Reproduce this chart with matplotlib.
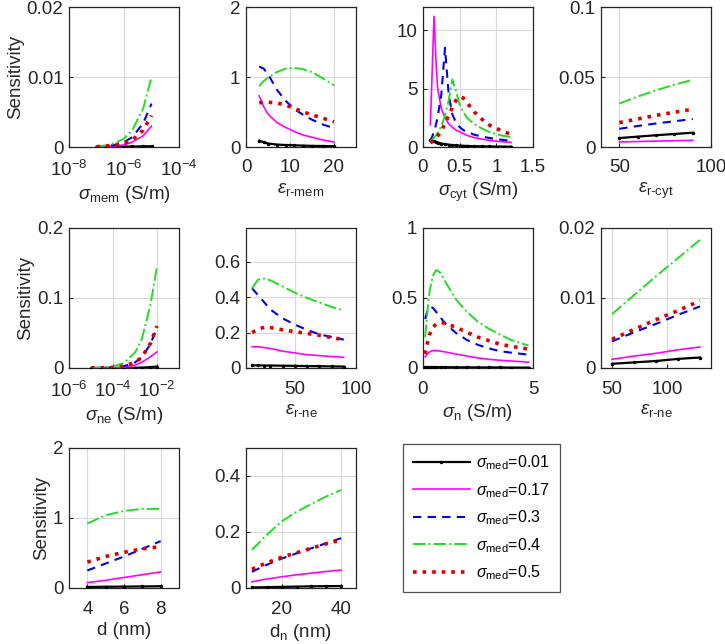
import numpy as np
import matplotlib
matplotlib.use("Agg")
import matplotlib.pyplot as plt
from matplotlib.lines import Line2D

plt.rcParams['font.family'] = ['Liberation Sans', 'DejaVu Sans']
plt.rcParams['mathtext.fontset'] = 'custom'
plt.rcParams['mathtext.rm'] = 'Liberation Sans'
plt.rcParams['mathtext.it'] = 'Liberation Sans:italic'
plt.rcParams['mathtext.default'] = 'it'

# series order: sigma_med = 0.01, 0.17, 0.3, 0.4, 0.5
med_labels = ['0.01', '0.17', '0.3', '0.4', '0.5']

# sigma_mem
x_mem = [1e-7, 2e-7, 5e-7, 1e-6, 2e-6, 5e-6, 1e-5]
y_mem = [
    [0.00002, 0.00003, 0.00004, 0.00006, 0.00008, 0.0001, 0.0001],
    [0.00003, 0.00006, 0.00015, 0.0003, 0.0007, 0.0016, 0.0030],
    [0.00005, 0.0001, 0.0003, 0.0007, 0.0014, 0.0034, 0.0062],
    [0.0001, 0.0002, 0.0006, 0.0012, 0.0024, 0.0055, 0.0100],
    [0.00005, 0.0001, 0.0003, 0.0005, 0.0010, 0.0024, 0.0045],
]

# eps_r-mem
x_epsmem = [3, 4, 5, 7, 9, 11, 13, 15, 17.5, 20]
y_epsmem = [
    [0.09, 0.07, 0.05, 0.035, 0.028, 0.024, 0.02, 0.016, 0.014, 0.012],
    [0.73, 0.58, 0.47, 0.35, 0.28, 0.22, 0.17, 0.14, 0.10, 0.07],
    [1.15, 1.12, 1.04, 0.82, 0.66, 0.54, 0.46, 0.39, 0.32, 0.27],
    [0.87, 0.94, 0.99, 1.07, 1.12, 1.13, 1.11, 1.07, 0.98, 0.88],
    [0.63, 0.64, 0.64, 0.63, 0.60, 0.55, 0.50, 0.46, 0.41, 0.36],
]

# sigma_cyt
x_cyt = [0.1, 0.12, 0.15, 0.18, 0.2, 0.25, 0.3, 0.35, 0.4, 0.45, 0.5,
         0.55, 0.6, 0.7, 0.8, 0.9, 1.0, 1.1, 1.2]
y_cyt = [
    [0.6, 0.55, 0.5, 0.42, 0.38, 0.3, 0.24, 0.2, 0.16, 0.14, 0.12,
     0.1, 0.09, 0.07, 0.06, 0.05, 0.04, 0.035, 0.03],
    [1.9, 5.5, 11.2, 7.0, 5.0, 3.3, 2.5, 2.0, 1.7, 1.45, 1.3,
     1.15, 1.0, 0.8, 0.68, 0.57, 0.5, 0.44, 0.4],
    [0.5, 0.8, 1.3, 2.0, 2.6, 4.5, 8.5, 4.5, 2.8, 2.1, 1.7,
     1.45, 1.3, 1.05, 0.9, 0.78, 0.68, 0.6, 0.53],
    [0.5, 0.6, 0.8, 1.0, 1.2, 1.8, 2.7, 4.0, 5.8, 4.8, 3.6,
     3.0, 2.5, 1.95, 1.6, 1.3, 1.1, 0.95, 0.85],
    [0.35, 0.45, 0.6, 0.8, 0.95, 1.4, 2.0, 2.7, 3.4, 4.0, 4.3,
     4.2, 3.8, 3.0, 2.4, 1.9, 1.6, 1.3, 1.1],
]

# eps_r-cyt
x_epscyt = [50, 60, 70, 80, 90]
y_epscyt = [
    [0.0064, 0.0074, 0.0084, 0.0093, 0.0102],
    [0.0036, 0.0039, 0.0042, 0.0045, 0.0048],
    [0.013, 0.015, 0.0168, 0.0184, 0.020],
    [0.031, 0.036, 0.0405, 0.0445, 0.048],
    [0.0174, 0.020, 0.0226, 0.0248, 0.027],
]

# sigma_ne
x_ne = [1e-5, 3e-5, 1e-4, 3e-4, 1e-3, 2e-3, 5e-3, 1e-2]
y_ne = [
    [0.0, 0.0, 0.0, 0.0001, 0.0003, 0.0006, 0.0013, 0.002],
    [0.00005, 0.0001, 0.0003, 0.001, 0.004, 0.008, 0.016, 0.023],
    [0.0001, 0.0003, 0.0008, 0.0025, 0.008, 0.015, 0.034, 0.058],
    [0.0002, 0.0006, 0.002, 0.007, 0.022, 0.04, 0.09, 0.145],
    [0.0001, 0.0003, 0.0008, 0.0025, 0.008, 0.015, 0.035, 0.060],
]

# eps_r-ne (nuclear envelope)
x_epsne = [15, 20, 25, 30, 40, 50, 60, 70, 80, 90]
y_epsne = [
    [0.015, 0.015, 0.014, 0.014, 0.013, 0.012, 0.011, 0.01, 0.009, 0.008],
    [0.12, 0.12, 0.115, 0.11, 0.095, 0.085, 0.075, 0.07, 0.065, 0.06],
    [0.45, 0.41, 0.37, 0.33, 0.28, 0.245, 0.215, 0.19, 0.175, 0.16],
    [0.45, 0.50, 0.505, 0.495, 0.46, 0.425, 0.395, 0.37, 0.345, 0.325],
    [0.20, 0.22, 0.23, 0.228, 0.215, 0.205, 0.195, 0.185, 0.172, 0.16],
]

# sigma_n
x_n = [0.1, 0.2, 0.3, 0.45, 0.6, 0.8, 1.0, 1.5, 2.0, 2.5, 3.0, 3.5, 4.0, 4.8]
y_n = [
    [0.004, 0.005, 0.006, 0.006, 0.006, 0.006, 0.006, 0.005, 0.005, 0.004, 0.004, 0.004, 0.003, 0.003],
    [0.08, 0.10, 0.115, 0.125, 0.125, 0.12, 0.115, 0.10, 0.085, 0.072, 0.062, 0.055, 0.05, 0.042],
    [0.35, 0.41, 0.435, 0.43, 0.40, 0.36, 0.32, 0.25, 0.20, 0.165, 0.14, 0.12, 0.11, 0.095],
    [0.22, 0.40, 0.55, 0.66, 0.70, 0.68, 0.62, 0.49, 0.40, 0.33, 0.28, 0.24, 0.20, 0.16],
    [0.10, 0.18, 0.24, 0.29, 0.315, 0.325, 0.32, 0.29, 0.255, 0.22, 0.195, 0.17, 0.155, 0.135],
]

# eps_r-ne (nucleoplasm)
x_epsnp = [50, 70, 90, 110, 130]
y_epsnp = [
    [0.0006, 0.0008, 0.0010, 0.0013, 0.0015],
    [0.00124, 0.0017, 0.0021, 0.0026, 0.0030],
    [0.0038, 0.0051, 0.0063, 0.0076, 0.0088],
    [0.0077, 0.0104, 0.0131, 0.0157, 0.0183],
    [0.0041, 0.0055, 0.0069, 0.0082, 0.0096],
]

# d
x_d = [4, 5, 6, 7, 8]
y_d = [
    [0.015, 0.018, 0.02, 0.022, 0.025],
    [0.077, 0.11, 0.15, 0.19, 0.23],
    [0.25, 0.35, 0.45, 0.56, 0.67],
    [0.92, 1.04, 1.10, 1.13, 1.13],
    [0.37, 0.45, 0.51, 0.56, 0.59],
]

# d_n
x_dn = [10, 15, 20, 25, 30, 35, 40]
y_dn = [
    [0.002, 0.003, 0.004, 0.005, 0.006, 0.0065, 0.007],
    [0.022, 0.032, 0.04, 0.047, 0.053, 0.059, 0.064],
    [0.058, 0.083, 0.105, 0.124, 0.142, 0.16, 0.178],
    [0.136, 0.19, 0.238, 0.272, 0.30, 0.327, 0.35],
    [0.067, 0.09, 0.11, 0.126, 0.142, 0.158, 0.172],
]

styles = [
    dict(color='black', ls='-', lw=1.6, marker='.', ms=3),
    dict(color='#ff00ff', ls='-', lw=1.2),
    dict(color='#0000ee', ls='--', lw=1.5, dashes=(4, 3)),
    dict(color='#22dd22', ls='-.', lw=1.4),
    dict(color='#dd0000', ls=':', lw=2.6),
]

panels = [
    (x_mem, y_mem, r'$\sigma_{\mathrm{mem}}$ (S/m)', 'log', (1e-8, 1e-4), [1e-8, 1e-6, 1e-4], (0, 0.02), [0, 0.01, 0.02]),
    (x_epsmem, y_epsmem, r'$\epsilon_{\mathrm{r\text{-}mem}}$', 'linear', (0, 25), [0, 10, 20], (0, 2), [0, 1, 2]),
    (x_cyt, y_cyt, r'$\sigma_{\mathrm{cyt}}$ (S/m)', 'linear', (0, 1.5), [0, 0.5, 1, 1.5], (0, 12), [0, 5, 10]),
    (x_epscyt, y_epscyt, r'$\epsilon_{\mathrm{r\text{-}cyt}}$', 'linear', (40, 100), [50, 100], (0, 0.1), [0, 0.05, 0.1]),
    (x_ne, y_ne, r'$\sigma_{\mathrm{ne}}$ (S/m)', 'log', (1e-6, 1e-1), [1e-6, 1e-4, 1e-2], (0, 0.2), [0, 0.1, 0.2]),
    (x_epsne, y_epsne, r'$\epsilon_{\mathrm{r\text{-}ne}}$', 'linear', (10, 100), [50, 100], (0, 0.79), [0, 0.2, 0.4, 0.6]),
    (x_n, y_n, r'$\sigma_{\mathrm{n}}$ (S/m)', 'linear', (0, 5), [0, 5], (0, 1), [0, 0.5, 1]),
    (x_epsnp, y_epsnp, r'$\epsilon_{\mathrm{r\text{-}ne}}$', 'linear', (40, 140), [50, 100], (0, 0.02), [0, 0.01, 0.02]),
    (x_d, y_d, 'd (nm)', 'linear', (3, 9), [4, 6, 8], (0, 2), [0, 1, 2]),
    (x_dn, y_dn, r'$\mathrm{d}_{\mathrm{n}}$ (nm)', 'linear', (8, 45), [20, 40], (0, 0.5), [0, 0.2, 0.4]),
]

W, H = 725, 644
fig = plt.figure(figsize=(W / 100, H / 100), dpi=100)
col_left = [69, 246, 423, 601]
row_top = [7, 228, 448]
aw, ah = 110, 140

for i, (x, ys, xl, xs, xlim, xt, ylim, yt) in enumerate(panels):
    r, c = divmod(i, 4)
    ax = fig.add_axes([col_left[c] / W, 1 - (row_top[r] + ah) / H, aw / W, ah / H])
    for y, st in zip(ys, styles):
        ax.plot(x, y, **st, zorder=3)
    ax.set_xscale(xs)
    ax.set_xlim(xlim)
    ax.set_ylim(ylim)
    ax.set_xticks(xt)
    ax.set_yticks(yt)
    if xs == 'log':
        ax.minorticks_off()
    ax.set_yticklabels([('%g' % v) for v in yt])
    if xs != 'log':
        ax.set_xticklabels([('%g' % v) for v in xt])
    ax.grid(True, color='#d9d9d9', lw=0.8, zorder=0)
    ax.tick_params(direction='in', length=3, labelsize=13.5, colors='#262626', pad=4)
    ax.tick_params(axis='x', pad=9)
    for sp in ax.spines.values():
        sp.set_color('#262626')
        sp.set_linewidth(0.9)
    ax.set_xlabel(xl, fontsize=13.5, color='#262626', labelpad=3)
    if c == 0:
        ax.set_ylabel('Sensitivity', fontsize=13.5, color='#262626', labelpad=2)

handles = [Line2D([], [], **st) for st in styles]
labels = [r'$\sigma_{\mathrm{med}}$=' + v for v in med_labels]
leg = fig.legend(handles, labels, loc='upper left',
                 bbox_to_anchor=(403 / W, 1 - 444 / H), fontsize=11.5,
                 frameon=True, fancybox=False, edgecolor='#262626',
                 handlelength=3.6, handletextpad=0.4, labelspacing=0.55,
                 borderpad=0.6, borderaxespad=0)
leg.get_frame().set_linewidth(0.9)

fig.savefig('out.png', dpi=100)
